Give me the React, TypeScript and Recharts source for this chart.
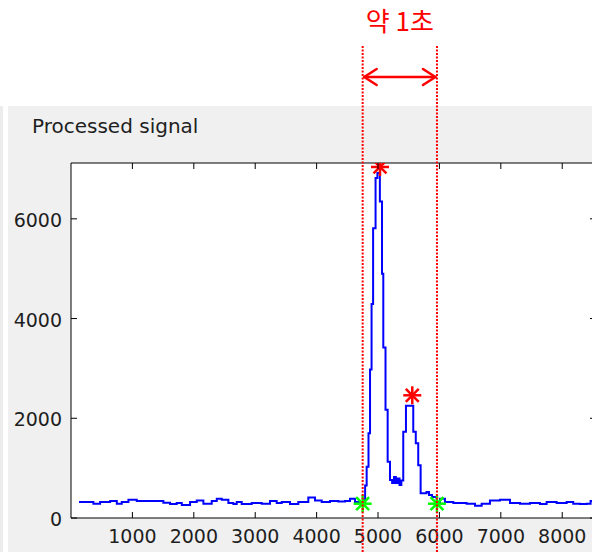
import React from 'react';
import {
  ComposedChart,
  Line,
  Scatter,
  XAxis,
  YAxis,
  ReferenceArea,
} from 'recharts';

// processed signal (sample position, amplitude)
const signalX = [
  130, 311, 365, 474, 637, 746, 827, 935, 1071, 1234, 1397, 1504, 1613, 1722, 1804,
  1939, 2048, 2156, 2292, 2374, 2455, 2563, 2644, 2699, 2780, 2943, 3106, 3241, 3350,
  3432, 3567, 3702, 3865, 3974, 4083, 4218, 4353, 4462, 4544, 4625, 4707, 4760, 4790,
  4815, 4845, 4870, 4895, 4920, 4960, 4990, 5030, 5065, 5086, 5122, 5157, 5195, 5230,
  5260, 5290, 5320, 5350, 5380, 5411, 5455, 5574, 5615, 5655, 5694, 5790, 5830, 5880,
  5955, 6009, 6090, 6226, 6443, 6579, 6688, 6823, 6986, 7149, 7312, 7474, 7637, 7746,
  7909, 8072, 8179, 8288, 8397, 8462, 8550,
];
const signalY = [
  319, 319, 287, 319, 340, 287, 319, 367, 340, 340, 340, 308, 283, 300, 260,
  319, 350, 287, 340, 387, 367, 300, 283, 319, 283, 300, 287, 340, 300,
  319, 283, 319, 410, 350, 319, 340, 330, 340, 387, 319, 300, 300, 650,
  1030, 1700, 2980, 4290, 5810, 6820, 6920, 6350, 4900, 3420, 2170, 1130, 760, 700,
  820, 700, 790, 660, 750, 1730, 2250, 1730, 1500, 1060, 495, 520, 460, 420,
  300, 387, 319, 300, 287, 246, 287, 350, 367, 300, 287, 300, 283, 319,
  300, 319, 287, 283, 287, 340, 320,
];

const peakX = [5032, 5558];
const peakY = [7040, 2461];
const valleyX = [4750, 5960];
const valleyY = [287, 287];

const xTicks = [1000, 2000, 3000, 4000, 5000, 6000, 7000, 8000];
const yTicks = [0, 2000, 4000, 6000];

const XMAX = 8550;
const YMAX = 7120;

const signal = signalX.map((x, i) => ({ x, y: signalY[i] }));
const peaks = peakX.map((x, i) => ({ x, y: peakY[i] }));
const valleys = valleyX.map((x, i) => ({ x, y: valleyY[i] }));

const PLOT_L = 71;
const PLOT_T = 163;
const PLOT_W = 525;
const PLOT_H = 355;
const CHART_W = 600;
const CHART_H = 552;
const Y_AXIS_W = 60;
const X_AXIS_H = 30;

const font = '"DejaVu Sans", Arial, sans-serif';
const textColor = '#1e1e1e';

const XTick = (props: any) => {
  const { x, y, payload } = props;
  return (
    <g>
      <line x1={x} x2={x} y1={y} y2={y - 6} stroke="#000" />
      <line x1={x} x2={x} y1={y - PLOT_H} y2={y - PLOT_H + 6} stroke="#000" />
      <text x={x} y={y + 25} textAnchor="middle" fontSize={19} fontFamily={font} fill={textColor}>
        {payload.value}
      </text>
    </g>
  );
};

const YTick = (props: any) => {
  const { x, y, payload } = props;
  return (
    <g>
      <line x1={x} x2={x + 6} y1={y} y2={y} stroke="#000" />
      <line x1={x + PLOT_W} x2={x + PLOT_W - 6} y1={y} y2={y} stroke="#000" />
      <text x={x - 9} y={y + 8} textAnchor="end" fontSize={19} fontFamily={font} fill={textColor}>
        {payload.value}
      </text>
    </g>
  );
};

const star = (color: string) => (props: any) => {
  const { cx, cy } = props;
  const r = 9;
  const d = r * 0.72;
  return (
    <g stroke={color} strokeWidth={2.5}>
      <line x1={cx - r} x2={cx + r} y1={cy} y2={cy} />
      <line x1={cx} x2={cx} y1={cy - r} y2={cy + r} />
      <line x1={cx - d} x2={cx + d} y1={cy - d} y2={cy + d} />
      <line x1={cx - d} x2={cx + d} y1={cy + d} y2={cy - d} />
    </g>
  );
};

const toPx = (v: number) => PLOT_L + (v / XMAX) * PLOT_W;

export default function App() {
  const leftX = toPx(valleyX[0]);
  const rightX = toPx(valleyX[1]);
  const arrowY = 77;
  return (
    <div
      style={{
        position: 'absolute',
        left: 0,
        top: 0,
        width: 592,
        height: 552,
        overflow: 'hidden',
        background: '#fff',
      }}
    >
      <div style={{ position: 'absolute', left: 0, top: 106, width: 3, height: 446, background: '#ececec' }} />
      <div style={{ position: 'absolute', left: 8, top: 106, width: 584, height: 446, background: '#f0f0f0' }} />
      <div
        style={{
          position: 'absolute',
          left: PLOT_L,
          top: PLOT_T,
          width: PLOT_W,
          height: PLOT_H,
          background: '#fff',
        }}
      />
      <div style={{ position: 'absolute', left: 0, top: 0 }}>
        <ComposedChart
          width={CHART_W}
          height={CHART_H}
          margin={{
            top: PLOT_T,
            left: PLOT_L - Y_AXIS_W,
            right: CHART_W - PLOT_L - PLOT_W,
            bottom: CHART_H - PLOT_T - PLOT_H - X_AXIS_H,
          }}
        >
          <XAxis
            type="number"
            dataKey="x"
            domain={[0, XMAX]}
            ticks={xTicks}
            interval={0}
            height={X_AXIS_H}
            tickSize={0}
            tickMargin={0}
            axisLine={false}
            tickLine={false}
            tick={XTick}
            allowDataOverflow
          />
          <YAxis
            type="number"
            domain={[0, YMAX]}
            ticks={yTicks}
            interval={0}
            width={Y_AXIS_W}
            tickSize={0}
            tickMargin={0}
            axisLine={false}
            tickLine={false}
            tick={YTick}
            allowDataOverflow
          />
          <ReferenceArea x1={0} x2={XMAX} y1={0} y2={YMAX} fill="none" stroke="#000" strokeWidth={1} />
          <Line
            data={signal}
            dataKey="y"
            type="stepAfter"
            stroke="#0000ff"
            strokeWidth={2}
            dot={false}
            isAnimationActive={false}
          />
          <Scatter data={peaks} dataKey="y" shape={star('#ff0000')} isAnimationActive={false} />
          <Scatter data={valleys} dataKey="y" shape={star('#00ff00')} isAnimationActive={false} />
        </ComposedChart>
      </div>
      <svg
        width={592}
        height={552}
        style={{ position: 'absolute', left: 0, top: 0, pointerEvents: 'none' }}
      >
        <text x={32} y={133} fontSize={20} fontFamily={font} fill={textColor}>
          Processed signal
        </text>
        <text
          x={(leftX + rightX) / 2}
          y={31}
          textAnchor="middle"
          fontSize={26}
          fontFamily='"Noto Sans CJK KR", sans-serif'
          fill="#ff0000"
        >
          약 1초
        </text>
        <g stroke="#ff0000" strokeWidth={2} strokeDasharray="2 1.5">
          <line x1={leftX} x2={leftX} y1={46} y2={552} />
          <line x1={rightX} x2={rightX} y1={46} y2={552} />
        </g>
        <g stroke="#ff0000" strokeWidth={2.5} fill="none" strokeLinecap="round" strokeLinejoin="round">
          <line x1={leftX + 1.5} x2={rightX - 1.5} y1={arrowY} y2={arrowY} />
          <polyline points={`${leftX + 14},${arrowY - 8} ${leftX + 1.5},${arrowY} ${leftX + 14},${arrowY + 8}`} />
          <polyline points={`${rightX - 14},${arrowY - 8} ${rightX - 1.5},${arrowY} ${rightX - 14},${arrowY + 8}`} />
        </g>
      </svg>
    </div>
  );
}
